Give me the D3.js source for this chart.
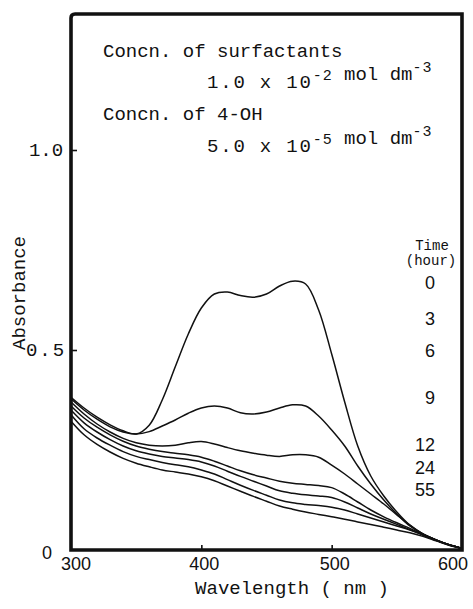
<!DOCTYPE html>
<html>
<head>
<meta charset="utf-8">
<script src="https://cdn.jsdelivr.net/npm/d3@7"></script>
<style>
  html, body { margin: 0; padding: 0; background: #fff; }
  svg { display: block; }
  .mono { font-family: "Liberation Mono", "Courier New", monospace; fill: #111; }
  .sans { font-family: "Liberation Sans", Arial, sans-serif; fill: #111; }
</style>
</head>
<body>
<svg id="chart" width="473" height="609"></svg>
<script>
// Absorption spectra of 4-OH in surfactant solution, recorded over time
const wavelengths = [300,310,320,330,340,350,360,370,380,390,400,410,420,430,440,450,460,470,480,490,500,510,520,530,540,550,560,570,580,590,600];

const hours = ["0", "3", "6", "9", "12", "24", "55"];

const abs0h  = [0.382,0.355,0.332,0.313,0.298,0.290,0.312,0.375,0.458,0.540,0.605,0.640,0.645,0.636,0.632,0.640,0.660,0.672,0.665,0.600,0.490,0.370,0.260,0.185,0.135,0.095,0.062,0.040,0.025,0.013,0.004];
const abs3h  = [0.378,0.350,0.327,0.308,0.295,0.290,0.296,0.310,0.325,0.342,0.355,0.360,0.355,0.343,0.340,0.345,0.355,0.363,0.360,0.335,0.300,0.260,0.210,0.165,0.125,0.090,0.060,0.040,0.025,0.013,0.004];
const abs6h  = [0.370,0.340,0.315,0.295,0.279,0.268,0.262,0.260,0.262,0.268,0.271,0.265,0.256,0.248,0.242,0.237,0.234,0.238,0.238,0.232,0.212,0.190,0.165,0.140,0.115,0.088,0.062,0.040,0.025,0.013,0.004];
const abs9h  = [0.360,0.330,0.307,0.288,0.272,0.260,0.252,0.246,0.242,0.238,0.232,0.222,0.210,0.198,0.188,0.180,0.172,0.167,0.164,0.161,0.156,0.140,0.120,0.100,0.083,0.068,0.054,0.039,0.025,0.013,0.004];
const abs12h = [0.350,0.318,0.295,0.276,0.260,0.248,0.240,0.234,0.230,0.226,0.220,0.210,0.197,0.184,0.172,0.160,0.148,0.142,0.138,0.135,0.131,0.120,0.105,0.090,0.077,0.064,0.051,0.038,0.025,0.013,0.004];
const abs24h = [0.338,0.303,0.280,0.262,0.246,0.234,0.226,0.219,0.213,0.208,0.200,0.190,0.176,0.162,0.149,0.137,0.125,0.118,0.114,0.111,0.107,0.100,0.090,0.080,0.070,0.060,0.050,0.037,0.024,0.013,0.004];
const abs55h = [0.322,0.288,0.264,0.245,0.229,0.217,0.208,0.200,0.195,0.190,0.183,0.173,0.160,0.147,0.134,0.122,0.110,0.102,0.095,0.089,0.083,0.077,0.070,0.064,0.057,0.050,0.043,0.034,0.023,0.012,0.004];

const xTicks = [300, 400, 500, 600];
const yTicks = [0, 0.5, 1.0];
const yTickLabels = ["0", "0.5", "1.0"];

const spectra = [abs0h, abs3h, abs6h, abs9h, abs12h, abs24h, abs55h];

// ---- drawing ----
const svg = d3.select("#chart");
const plotLeft = 71, plotRight = 462, plotTop = 14, plotBottom = 550;

const x = d3.scaleLinear().domain([300, 600]).range([plotLeft, plotRight]);
const y = d3.scaleLinear().domain([0, 1]).range([plotBottom, 150]);

// inward tick marks
const yAxis = d3.axisLeft(y).tickValues([0.5, 1.0]).tickSizeInner(-6).tickSizeOuter(0).tickFormat("");
const xAxis = d3.axisBottom(x).tickValues([400, 500]).tickSizeInner(-5).tickSizeOuter(0).tickFormat("");
const gy = svg.append("g").attr("transform", `translate(${plotLeft},0)`).call(yAxis);
gy.select(".domain").remove();
gy.selectAll("line").attr("stroke", "#111").attr("stroke-width", 1.6);
const gx = svg.append("g").attr("transform", `translate(0,${plotBottom})`).call(xAxis);
gx.select(".domain").remove();
gx.selectAll("line").attr("stroke", "#111").attr("stroke-width", 1.6);

// spectra
const line = d3.line()
  .x((d, i) => x(wavelengths[i]))
  .y(d => y(d))
  .curve(d3.curveCatmullRom.alpha(0.5));

svg.append("g")
  .selectAll("path")
  .data(spectra)
  .join("path")
  .attr("d", d => line(d))
  .attr("fill", "none")
  .attr("stroke", "#111")
  .attr("stroke-width", 1.5)
  .attr("stroke-linejoin", "round");

// plot frame
svg.append("path")
  .attr("d", `M${plotLeft},${plotBottom} L${plotLeft},${plotTop + 4} Q${plotLeft},${plotTop} ${plotLeft + 4},${plotTop} L${plotRight},${plotTop} L${plotRight},${plotBottom} Z`)
  .attr("fill", "none")
  .attr("stroke", "#111")
  .attr("stroke-width", 3.6);

// y tick labels
svg.append("g")
  .selectAll("text")
  .data(yTicks)
  .join("text")
  .attr("class", d => d === 0 ? "sans" : "mono")
  .attr("x", d => d === 0 ? 47 : 46)
  .attr("y", d => d === 0 ? y(d) + 9 : y(d) + 6)
  .attr("text-anchor", "middle")
  .attr("font-size", d => d === 0 ? 18 : 19)
  .attr("letter-spacing", d => d === 0.5 ? 2 : 0)
  .text((d, i) => yTickLabels[i]);

// x tick labels
svg.append("g")
  .selectAll("text")
  .data(xTicks)
  .join("text")
  .attr("class", "sans")
  .attr("x", (d, i) => x(d) + (i === 0 ? 5 : i === xTicks.length - 1 ? -9 : 3))
  .attr("y", plotBottom + 20)
  .attr("text-anchor", "middle")
  .attr("font-size", 18)
  .text(d => d);

// axis titles
svg.append("text")
  .attr("class", "mono")
  .attr("x", 292)
  .attr("y", 594)
  .attr("text-anchor", "middle")
  .attr("font-size", 19)
  .text("Wavelength ( nm )");

svg.append("text")
  .attr("class", "mono")
  .attr("transform", "translate(25,293) rotate(-90)")
  .attr("text-anchor", "middle")
  .attr("font-size", 19)
  .text("Absorbance");

// concentration notes
function note(xp, yp, parts) {
  const t = svg.append("text").attr("class", "mono").attr("x", xp).attr("y", yp).attr("font-size", 19);
  parts.forEach(p => {
    if (p.sup) {
      t.append("tspan").attr("dy", -8).attr("font-size", 15).attr("letter-spacing", 1).text(p.sup);
      t.append("tspan").attr("dy", 8).text("");
    } else {
      t.append("tspan").attr("letter-spacing", p.ls || 0).text(p.t);
    }
  });
}
note(103, 57, [{t: "Concn. of surfactants"}]);
note(207, 88, [{t: "1.0 x 10", ls: 1.8}, {sup: "-2"}, {t: " mol dm"}, {sup: "-3"}]);
note(103, 120, [{t: "Concn. of 4-OH"}]);
note(207, 152, [{t: "5.0 x 10", ls: 1.8}, {sup: "-5"}, {t: " mol dm"}, {sup: "-3"}]);

// time legend
svg.append("text").attr("class", "mono").attr("x", 432).attr("y", 250)
  .attr("text-anchor", "middle").attr("font-size", 14).text("Time");
svg.append("text").attr("class", "mono").attr("x", 431).attr("y", 265)
  .attr("text-anchor", "middle").attr("font-size", 14).text("(hour)");

const legendLevels = [0.6675, 0.5775, 0.4975, 0.38, 0.2625, 0.205, 0.15];
svg.append("g")
  .selectAll("text")
  .data(hours)
  .join("text")
  .attr("class", "sans")
  .attr("x", 435)
  .attr("y", (d, i) => y(legendLevels[i]) + 6)
  .attr("text-anchor", "end")
  .attr("font-size", 18)
  .text(d => d);
</script>
</body>
</html>
